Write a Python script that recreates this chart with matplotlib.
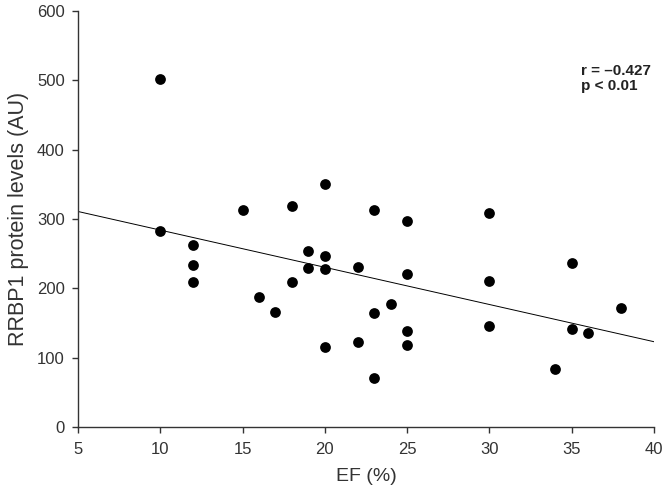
import numpy as np
import matplotlib
matplotlib.use("Agg")
import matplotlib.pyplot as plt

plt.rcParams['font.family'] = ['Liberation Sans', 'DejaVu Sans']

# EF (%) vs RRBP1 protein levels (AU)
ef = [10, 10, 12, 12, 12, 15, 16, 17, 18, 18, 19, 19, 20, 20, 20, 20, 22,
      22, 23, 23, 23, 24, 25, 25, 25, 25, 30, 30, 30, 34, 35, 35, 36, 38]
rrbp1 = [501, 283, 263, 233, 209, 313, 187, 166, 319, 209, 254, 229, 350,
         246, 228, 116, 231, 122, 313, 165, 70, 177, 297, 221, 138, 118,
         308, 210, 146, 84, 237, 142, 135, 171]

# regression line as drawn (value at x = 5 and x = 40)
fit_x = [5, 40]
fit_y = [310.7, 123.0]

stats_text = "r = \u20130.427\np < 0.01"

fig = plt.figure(figsize=(6.68, 4.99), dpi=100)
ax = fig.add_axes([0.1168, 0.1443, 0.862, 0.834])

ax.plot(fit_x, fit_y, color='black', lw=0.7)
ax.scatter(ef, rrbp1, s=60, color='black', zorder=3, linewidths=0)

ax.set_xlim(5, 40)
ax.set_ylim(0, 600)
ax.set_xticks(range(5, 41, 5))
ax.set_yticks(range(0, 601, 100))

for s in ['top', 'right']:
    ax.spines[s].set_visible(False)
for s in ['left', 'bottom']:
    ax.spines[s].set_color('#333333')
    ax.spines[s].set_linewidth(1.0)
ax.tick_params(direction='out', length=4.5, width=1.0, color='#333333',
               labelsize=12, labelcolor='#333333')
ax.tick_params(axis='y', pad=5)
ax.tick_params(axis='x', pad=6)

ax.set_xlabel('EF (%)', fontsize=14, color='#333333', labelpad=8)
ax.set_ylabel('RRBP1 protein levels (AU)', fontsize=15.5, color='#333333', labelpad=6)

ax.text(35.6, 502, stats_text, fontsize=11, fontweight='bold', va='center',
        ha='left', linespacing=1.1, color='#222222')

fig.savefig('out.png', dpi=100)
